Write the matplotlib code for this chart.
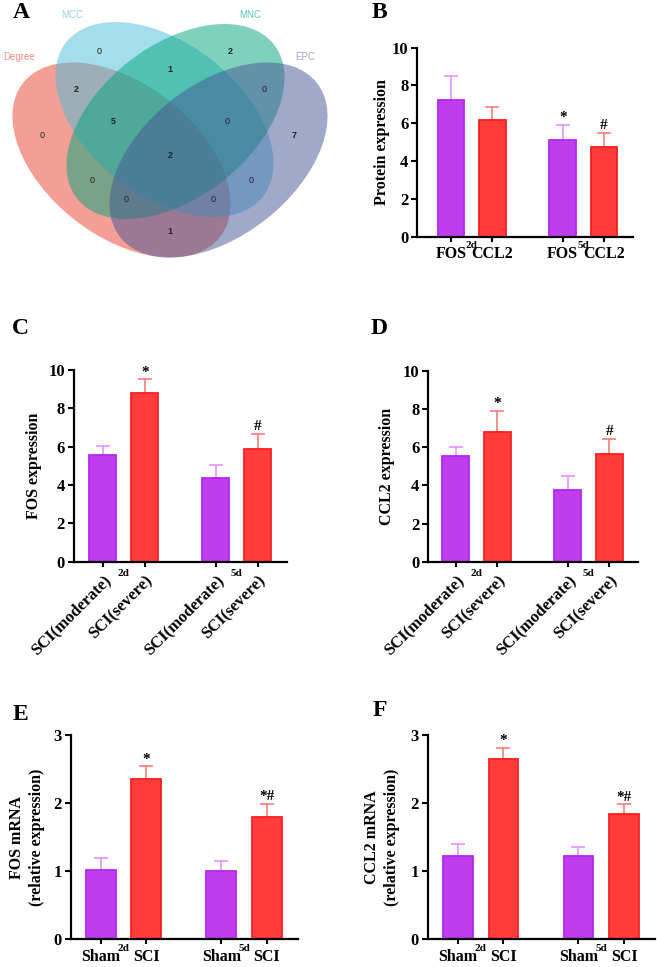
import matplotlib

matplotlib.use('Agg')
import matplotlib.pyplot as plt
from matplotlib.patches import Ellipse

W, H = 657, 967
SERIF = 'Liberation Serif'
SANS = 'Liberation Sans'

# ---- panel A: Venn of hub-gene algorithms ----
set_names = ["Degree", "MCC", "MNC", "EPC"]
set_colors = ["#E9412D", "#4BBDD9", "#01A57D", "#455595"]
label_colors = ["#F28C80", "#8CD6EB", "#5BC8AF", "#A0A5C8"]
# region keys: membership in (Degree, MCC, MNC, EPC)
region_keys = ["0100", "0010", "1000", "0001", "0110", "1100", "0011", "1110",
               "0111", "1111", "1010", "0101", "1011", "1101", "1001"]
region_counts = [0, 2, 0, 7, 1, 2, 0, 5, 0, 2, 0, 0, 0, 0, 1]

# ---- panel B ----
b_labels = ["FOS", "CCL2", "FOS", "CCL2"]
b_vals = [7.22, 6.15, 5.13, 4.73]
b_err = [1.28, 0.70, 0.78, 0.78]
b_marks = ["", "", "*", "#"]

# ---- panels C, D ----
cd_labels = ["SCI(moderate)", "SCI(severe)", "SCI(moderate)", "SCI(severe)"]
c_vals = [5.57, 8.82, 4.35, 5.88]
c_err = [0.46, 0.69, 0.71, 0.78]
c_marks = ["", "*", "", "#"]
d_vals = [5.56, 6.82, 3.76, 5.66]
d_err = [0.47, 1.10, 0.72, 0.79]
d_marks = ["", "*", "", "#"]

# ---- panels E, F ----
ef_labels = ["Sham", "SCI", "Sham", "SCI"]
e_vals = [1.02, 2.36, 1.00, 1.79]
e_err = [0.17, 0.18, 0.15, 0.20]
e_marks = ["", "*", "", "*#"]
f_vals = [1.225, 2.65, 1.22, 1.84]
f_err = [0.175, 0.16, 0.14, 0.14]
f_marks = ["", "*", "", "*#"]

time_points = ["2d", "5d"]

PURPLE = "#BE3EEE"
PURPLE_EDGE = "#B428F0"
PURPLE_ERR = "#E18CFA"
RED = "#FF3C3C"
RED_EDGE = "#FF2020"
RED_ERR = "#FF7070"

fig = plt.figure(figsize=(W / 100, H / 100), dpi=100)


def px_axes(left, top, right, bottom):
    return fig.add_axes([left / W, 1 - bottom / H, (right - left) / W, (bottom - top) / H])


def panel_letter(x, y, s):
    fig.text(x / W, 1 - y / H, s, family=SERIF, weight='bold', fontsize=17,
             ha='center', va='center')


# Venn
ax = px_axes(0, 0, 330, 265)
ax.set_xlim(0, 330)
ax.set_ylim(265, 0)
ax.axis('off')
ellipses = [((121.5, 160), 38), ((164.5, 119.5), 38), ((175.5, 121.5), -38), ((218.5, 160), -38)]
for (c, ang), col in zip(ellipses, set_colors):
    ax.add_patch(Ellipse(c, 250, 152, angle=ang, facecolor=col, edgecolor='none', alpha=0.5))
name_pos = [(19, 57), (72, 15), (250, 15), (305, 57)]
for name, (x, y), col in zip(set_names, name_pos, label_colors):
    ax.text(x, y, name, color=col, fontsize=7, family=SANS, ha='center', va='center')
region_pos = [(99, 51), (230, 51), (42, 135), (294, 135), (170, 70), (76, 89), (264, 90),
              (113, 122), (227, 122), (170, 155), (92, 181), (251, 181), (126, 200),
              (213, 200), (170, 232)]
for key, n, (x, y) in zip(region_keys, region_counts, region_pos):
    ax.text(x, y, str(n), fontsize=6.5, family=SANS, color='#222222',
            weight='bold' if n > 0 else 'normal', ha='center', va='center')


def bar_panel(box, positions, xlim, vals, errs, marks, labels, ylim, yticks,
              ylabel, label_dx, tp_off, rotate=False):
    ax = px_axes(*box)
    fills = [PURPLE, RED, PURPLE, RED]
    edges = [PURPLE_EDGE, RED_EDGE, PURPLE_EDGE, RED_EDGE]
    errc = [PURPLE_ERR, RED_ERR, PURPLE_ERR, RED_ERR]
    for p, v, e, m, fc, ec, erc in zip(positions, vals, errs, marks, fills, edges, errc):
        ax.errorbar(p, v, yerr=[[0], [e]], fmt='none', ecolor=erc, elinewidth=1.1,
                    capsize=5, capthick=1.1, zorder=1)
        ax.bar(p, v, width=0.65, color=fc, edgecolor=ec, linewidth=1.3, zorder=2)
        if m:
            ax.annotate(m, (p, v + e), xytext=(0, 0.5), textcoords='offset points',
                        ha='center', va='bottom', fontsize=11, family=SERIF, weight='bold')
    ax.set_xlim(*xlim)
    ax.set_ylim(*ylim)
    ax.set_yticks(yticks)
    ax.set_xticks(positions)
    for s in ['top', 'right']:
        ax.spines[s].set_visible(False)
    for s in ['left', 'bottom']:
        ax.spines[s].set_linewidth(1.6)
    ax.tick_params(axis='both', width=1.5, direction='out')
    ax.tick_params(axis='x', length=3.5)
    ax.tick_params(axis='y', length=4.5, labelsize=12, pad=2)
    if rotate:
        ax.set_xticklabels(labels, rotation=45, ha='right', rotation_mode='anchor',
                           fontsize=12, family=SERIF, weight='bold')
        ax.tick_params(axis='x', pad=4)
    else:
        ax.set_xticklabels(labels, fontsize=11.5, family=SERIF, weight='bold')
        ax.tick_params(axis='x', pad=3.5)
    for t in ax.get_yticklabels():
        t.set_family(SERIF)
        t.set_weight('bold')
    ax.set_ylabel(ylabel, family=SERIF, weight='bold', fontsize=11.5, linespacing=1.3)
    w = box[2] - box[0]
    ax.yaxis.set_label_coords(label_dx / w, 0.5)
    for k, tp in enumerate(time_points):
        mid = (positions[2 * k] + positions[2 * k + 1]) / 2
        ax.annotate(tp, (mid, 0), xycoords=('data', 'axes fraction'),
                    xytext=(0, -tp_off), textcoords='offset points', ha='center',
                    va='center', fontsize=8, family=SERIF, weight='bold')
    return ax


pos_bd = [0, 1, 2.7, 3.7]
pos_ef = [0, 1, 2.65, 3.65]

bar_panel((417.3, 47.7, 633, 236.7), pos_bd, (-0.815, 4.40), b_vals, b_err, b_marks,
          b_labels, (0, 10), [0, 2, 4, 6, 8, 10], "Protein expression", -27, 6.3)
bar_panel((74, 370, 287, 561.7), pos_bd, (-0.69, 4.40), c_vals, c_err, c_marks,
          cd_labels, (0, 10), [0, 2, 4, 6, 8, 10], "FOS expression", -32, 8.8, rotate=True)
bar_panel((428.3, 371, 638, 561.7), pos_bd, (-0.66, 4.39), d_vals, d_err, d_marks,
          cd_labels, (0, 10), [0, 2, 4, 6, 8, 10], "CCL2 expression", -33, 8.8, rotate=True)
bar_panel((70.7, 735, 297.7, 939.3), pos_ef, (-0.66, 4.33), e_vals, e_err, e_marks,
          ef_labels, (0, 3), [0, 1, 2, 3], "FOS mRNA\n(relative expression)", -26, 6.8)
bar_panel((427.7, 735, 655, 939), pos_ef, (-0.66, 4.33), f_vals, f_err, f_marks,
          ef_labels, (0, 3), [0, 1, 2, 3], "CCL2 mRNA\n(relative expression)", -28, 6.8)

panel_letter(21, 13, "A")
panel_letter(379, 13, "B")
panel_letter(20, 328, "C")
panel_letter(379, 329, "D")
panel_letter(20, 715, "E")
panel_letter(380, 710, "F")

fig.savefig("out.png", dpi=100)
